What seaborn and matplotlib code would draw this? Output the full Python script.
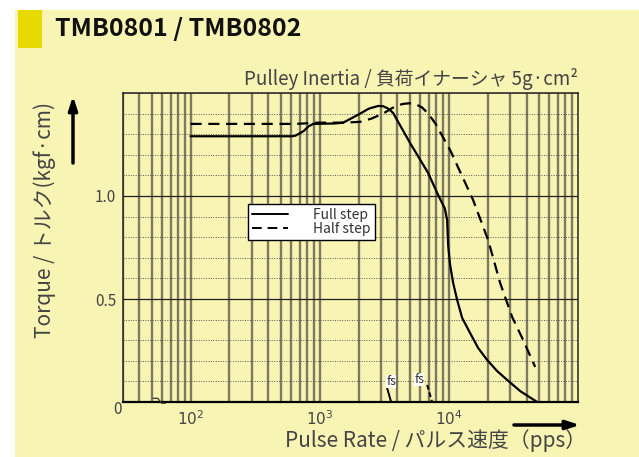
import numpy as np
import pandas as pd
import seaborn as sns
import matplotlib
matplotlib.use("Agg")
from matplotlib import pyplot as plt
from matplotlib.patches import Rectangle, FancyArrowPatch
from matplotlib.lines import Line2D
from matplotlib.ticker import FixedLocator, NullFormatter, MultipleLocator, FixedFormatter

# values (pulse rate in pps, torque in kgf·cm)
full_pps = [100, 611, 650, 750, 820, 889, 1300, 1518, 1700, 2056, 2400, 2834, 3100, 3326,
            3500, 3703, 5014, 6910, 8260, 9300, 9700, 9880, 10230, 10800, 11600, 12680,
            14600, 16870, 19800, 23670, 28300, 35650, 48300]
full_torque = [1.29, 1.29, 1.293, 1.315, 1.338, 1.35, 1.352, 1.356, 1.372, 1.40, 1.424, 1.437,
               1.436, 1.427, 1.417, 1.403, 1.257, 1.112, 1.005, 0.94, 0.883, 0.760, 0.665,
               0.578, 0.495, 0.408, 0.335, 0.262, 0.204, 0.150, 0.107, 0.053, 0.0]
half_pps = [100, 650, 800, 950, 1518, 2056, 2500, 3097, 3600, 4000, 4427, 4900, 5480, 6200,
            6910, 7830, 10230, 15400, 20150, 24950, 30900, 37600, 46600]
half_torque = [1.35, 1.35, 1.353, 1.356, 1.356, 1.36, 1.375, 1.40, 1.425, 1.44, 1.447, 1.45,
               1.447, 1.43, 1.40, 1.354, 1.223, 0.981, 0.786, 0.578, 0.413, 0.301, 0.170]
fs_full_pps = [3326, 3573]
fs_full_torque = [0.068, 0.0]
fs_half_pps = [6790, 7425]
fs_half_torque = [0.083, 0.0]
x_ticks = [1e2, 1e3, 1e4]
x_ticklabels = ["$10^2$", "$10^3$", "$10^4$"]
y_ticks = [0.5, 1.0]

sns.set_style("white")
plt.rcParams["font.family"] = ["Noto Sans CJK JP", "DejaVu Sans"]

bg = "#F8F4B4"
grid_col = "#77735A"
txt_col = "#444444"

df = pd.DataFrame({
    "pps": full_pps + half_pps,
    "torque": full_torque + half_torque,
    "mode": ["Full step"] * len(full_pps) + ["Half step"] * len(half_pps),
})
fs_df = pd.DataFrame({
    "pps": fs_full_pps + fs_half_pps,
    "torque": fs_full_torque + fs_half_torque,
    "mode": ["Full step"] * 2 + ["Half step"] * 2,
})

fig = plt.figure(figsize=(6.39, 4.57), dpi=100)
fig.patch.set_facecolor("white")
fig.patches.append(Rectangle((15, 0), 624, 447, transform=None, facecolor=bg, edgecolor="none", zorder=-10))
fig.patches.append(Rectangle((18, 409), 24, 38, transform=None, facecolor="#E6DA00", edgecolor="none", zorder=-5))
fig.text(55 / 639, 1 - 29 / 457, "TMB0801 / TMB0802", fontsize=18, fontweight="bold",
         va="center", ha="left", color="#111111")

ax = fig.add_axes([123 / 639, 55 / 457, 455 / 639, 309 / 457])
ax.set_facecolor(bg)
ax.set_xscale("log")

dashes = {"Full step": "", "Half step": (5, 3)}
sns.lineplot(data=df, x="pps", y="torque", style="mode", dashes=dashes, color="black",
             linewidth=1.6, estimator=None, sort=False, ax=ax, legend=False, zorder=5)
sns.lineplot(data=fs_df, x="pps", y="torque", style="mode", dashes={"Full step": "", "Half step": (2.5, 1.5)},
             color="black", linewidth=1.4, estimator=None, sort=False, ax=ax, legend=False, zorder=5)
for ln in ax.lines:
    ln.set_solid_joinstyle("round")
    ln.set_dash_joinstyle("round")

ax.set_xlim(30, 1e5)
ax.set_ylim(0, 1.5)

# grid
minor_x = [m * 10 ** e for e in range(1, 5) for m in range(1, 10) if 30 <= m * 10 ** e <= 1e5]
ax.xaxis.set_major_locator(FixedLocator(x_ticks))
ax.xaxis.set_major_formatter(FixedFormatter(x_ticklabels))
ax.xaxis.set_minor_locator(FixedLocator(minor_x))
ax.xaxis.set_minor_formatter(NullFormatter())
ax.yaxis.set_major_locator(FixedLocator(y_ticks))
ax.yaxis.set_minor_locator(MultipleLocator(0.1))
ax.grid(which="both", axis="x", color=grid_col, linewidth=1.7, alpha=0.95)
ax.grid(which="major", axis="y", color="#222222", linewidth=0.9)
ax.grid(which="minor", axis="y", color="#555555", linewidth=0.7, linestyle=(0, (1, 1.5)))
ax.set_axisbelow(True)
ax.tick_params(which="both", length=0, labelsize=11, labelcolor=txt_col)
ax.tick_params(axis="x", pad=6)
ax.tick_params(axis="y", pad=5)
for s in ax.spines.values():
    s.set_color("#222222")
    s.set_linewidth(1.1)
ax.spines["bottom"].set_linewidth(1.6)
ax.spines["bottom"].set_color("black")

ax.set_xlabel("")
ax.set_ylabel("")

# axis break mark near origin
ax.plot([0.066, 0.076, 0.085, 0.093], [0.012, 0.012, -0.004, -0.004], transform=ax.transAxes,
        color="#333333", linewidth=0.9, clip_on=False, zorder=6)

# fs labels
for xv, yv in [(3573, 0.10), (5890, 0.11)]:
    ax.text(xv, yv, "fs", fontsize=9, ha="center", va="center", color="#333333", zorder=7,
            bbox=dict(facecolor="white", edgecolor="none", pad=0.2))

# legend
handles = [Line2D([], [], color="black", linewidth=1.4),
           Line2D([], [], color="black", linewidth=1.4, dashes=(5, 3))]
leg = ax.legend(handles, ["Full step", "Half step"], loc="lower left",
                bbox_to_anchor=((248 - 123) / 455, (402 - 240) / 309), fontsize=10,
                frameon=True, fancybox=False, handlelength=2.6, handletextpad=1.8,
                borderpad=0.3, labelspacing=0.0, borderaxespad=0)
leg.get_frame().set_edgecolor("black")
leg.get_frame().set_linewidth(1.0)
leg.get_frame().set_alpha(1)
for t in leg.get_texts():
    t.set_color("#333333")

# texts outside
fig.text(117 / 639, 1 - 410 / 457, "0", fontsize=11, color=txt_col, ha="center", va="center")
fig.text(578 / 639, 1 - 79 / 457, "Pulley Inertia / 負荷イナーシャ 5g·cm²", fontsize=13.5,
         color=txt_col, ha="right", va="center")
fig.text(45 / 639, 1 - 220 / 457, "Torque / トルク(kgf·cm)", fontsize=15, color=txt_col,
         rotation=90, ha="center", va="center")
fig.text(586 / 639, 1 - 441 / 457, "Pulse Rate / パルス速度（pps）", fontsize=15, color=txt_col,
         ha="right", va="center")

# arrows
for start, end in [((73, 457 - 163), (73, 457 - 96)), ((514, 457 - 425), (580, 457 - 425))]:
    fig.add_artist(FancyArrowPatch(start, end, transform=None,
                   arrowstyle="-|>,head_length=8,head_width=2.6", color="black", lw=2.5,
                   shrinkA=0, shrinkB=0))

fig.savefig("out.png", dpi=100, facecolor=fig.get_facecolor())
